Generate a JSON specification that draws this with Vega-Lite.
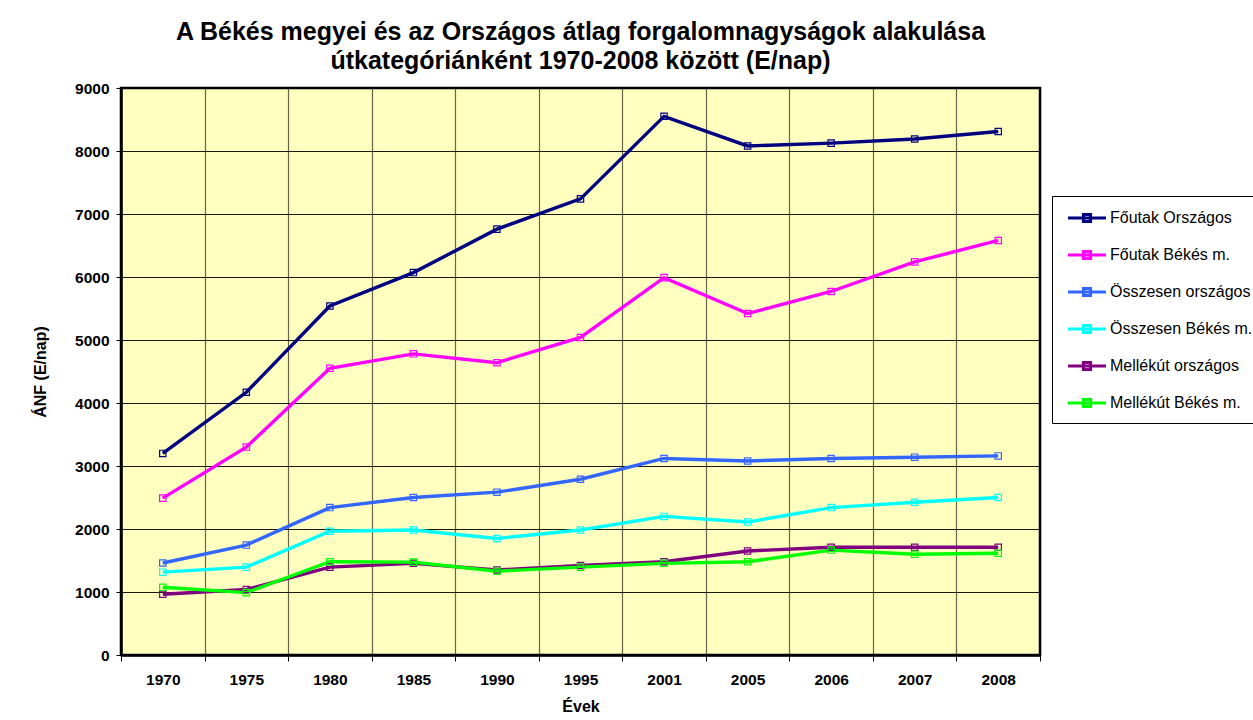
{
  "$schema": "https://vega.github.io/schema/vega-lite/v6.json",
  "autosize": {"type": "none"},
  "width": 919,
  "height": 567,
  "padding": {"left": 121, "top": 88, "right": 213, "bottom": 65},
  "background": "white",
  "title": {
    "text": ["A Békés megyei és az Országos átlag forgalomnagyságok alakulása", "útkategóriánként  1970-2008 között (E/nap)"],
    "font": "Liberation Sans",
    "fontSize": 25,
    "fontWeight": "bold",
    "color": "black",
    "lineHeight": 29,
    "anchor": "middle",
    "offset": 7
  },
  "data": {"values": [
    {"ev": "1970", "s": "Főutak Országos", "v": 3200},
    {"ev": "1975", "s": "Főutak Országos", "v": 4170},
    {"ev": "1980", "s": "Főutak Országos", "v": 5540},
    {"ev": "1985", "s": "Főutak Országos", "v": 6070},
    {"ev": "1990", "s": "Főutak Országos", "v": 6760},
    {"ev": "1995", "s": "Főutak Országos", "v": 7240},
    {"ev": "2001", "s": "Főutak Országos", "v": 8550},
    {"ev": "2005", "s": "Főutak Országos", "v": 8080},
    {"ev": "2006", "s": "Főutak Országos", "v": 8125},
    {"ev": "2007", "s": "Főutak Országos", "v": 8190},
    {"ev": "2008", "s": "Főutak Országos", "v": 8310},
    {"ev": "1970", "s": "Főutak Békés m.", "v": 2490},
    {"ev": "1975", "s": "Főutak Békés m.", "v": 3300},
    {"ev": "1980", "s": "Főutak Békés m.", "v": 4550},
    {"ev": "1985", "s": "Főutak Békés m.", "v": 4780},
    {"ev": "1990", "s": "Főutak Békés m.", "v": 4640},
    {"ev": "1995", "s": "Főutak Békés m.", "v": 5040},
    {"ev": "2001", "s": "Főutak Békés m.", "v": 5990},
    {"ev": "2005", "s": "Főutak Békés m.", "v": 5420},
    {"ev": "2006", "s": "Főutak Békés m.", "v": 5770},
    {"ev": "2007", "s": "Főutak Békés m.", "v": 6240},
    {"ev": "2008", "s": "Főutak Békés m.", "v": 6580},
    {"ev": "1970", "s": "Összesen országos", "v": 1460},
    {"ev": "1975", "s": "Összesen országos", "v": 1745},
    {"ev": "1980", "s": "Összesen országos", "v": 2340},
    {"ev": "1985", "s": "Összesen országos", "v": 2500},
    {"ev": "1990", "s": "Összesen országos", "v": 2585},
    {"ev": "1995", "s": "Összesen országos", "v": 2790},
    {"ev": "2001", "s": "Összesen országos", "v": 3120},
    {"ev": "2005", "s": "Összesen országos", "v": 3080},
    {"ev": "2006", "s": "Összesen országos", "v": 3120},
    {"ev": "2007", "s": "Összesen országos", "v": 3140},
    {"ev": "2008", "s": "Összesen országos", "v": 3160},
    {"ev": "1970", "s": "Összesen Békés m.", "v": 1315},
    {"ev": "1975", "s": "Összesen Békés m.", "v": 1395},
    {"ev": "1980", "s": "Összesen Békés m.", "v": 1965},
    {"ev": "1985", "s": "Összesen Békés m.", "v": 1985},
    {"ev": "1990", "s": "Összesen Békés m.", "v": 1850},
    {"ev": "1995", "s": "Összesen Békés m.", "v": 1985},
    {"ev": "2001", "s": "Összesen Békés m.", "v": 2200},
    {"ev": "2005", "s": "Összesen Békés m.", "v": 2110},
    {"ev": "2006", "s": "Összesen Békés m.", "v": 2340},
    {"ev": "2007", "s": "Összesen Békés m.", "v": 2425},
    {"ev": "2008", "s": "Összesen Békés m.", "v": 2500},
    {"ev": "1970", "s": "Mellékút országos", "v": 965},
    {"ev": "1975", "s": "Mellékút országos", "v": 1040},
    {"ev": "1980", "s": "Mellékút országos", "v": 1395},
    {"ev": "1985", "s": "Mellékút országos", "v": 1455},
    {"ev": "1990", "s": "Mellékút országos", "v": 1350},
    {"ev": "1995", "s": "Mellékút országos", "v": 1420},
    {"ev": "2001", "s": "Mellékút országos", "v": 1480},
    {"ev": "2005", "s": "Mellékút országos", "v": 1650},
    {"ev": "2006", "s": "Mellékút országos", "v": 1710},
    {"ev": "2007", "s": "Mellékút országos", "v": 1710},
    {"ev": "2008", "s": "Mellékút országos", "v": 1710},
    {"ev": "1970", "s": "Mellékút Békés m.", "v": 1075},
    {"ev": "1975", "s": "Mellékút Békés m.", "v": 990},
    {"ev": "1980", "s": "Mellékút Békés m.", "v": 1480},
    {"ev": "1985", "s": "Mellékút Békés m.", "v": 1475},
    {"ev": "1990", "s": "Mellékút Békés m.", "v": 1330},
    {"ev": "1995", "s": "Mellékút Békés m.", "v": 1395},
    {"ev": "2001", "s": "Mellékút Békés m.", "v": 1455},
    {"ev": "2005", "s": "Mellékút Békés m.", "v": 1480},
    {"ev": "2006", "s": "Mellékút Békés m.", "v": 1665},
    {"ev": "2007", "s": "Mellékút Békés m.", "v": 1600},
    {"ev": "2008", "s": "Mellékút Békés m.", "v": 1615}
  ]},
  "encoding": {
    "x": {
      "field": "ev", "type": "ordinal", "bandPosition": 0.5,
      "scale": {"type": "band", "paddingInner": 0, "paddingOuter": 0},
      "axis": {
        "title": "Évek", "tickBand": "extent", "grid": true, "gridColor": "#000000", "gridOpacity": 0.6, "gridWidth": 1.2,
        "domainColor": "#000000", "domainWidth": 2.5, "tickColor": "#000000", "tickSize": 6, "tickWidth": 1,
        "labelAngle": 0, "labelFont": "Liberation Sans", "labelFontSize": 15.5, "labelFontWeight": "bold", "labelColor": "#000000", "labelPadding": 11,
        "titleFont": "Liberation Sans", "titleFontSize": 16, "titleFontWeight": "bold", "titleColor": "#000000", "titlePadding": 11
      }
    },
    "y": {
      "field": "v", "type": "quantitative",
      "scale": {"domain": [0, 9000], "nice": false},
      "axis": {
        "title": "ÁNF (E/nap)", "values": [0, 1000, 2000, 3000, 4000, 5000, 6000, 7000, 8000, 9000], "format": "d",
        "grid": true, "gridColor": "#000000", "gridOpacity": 0.9, "gridWidth": 1.2,
        "domainColor": "#000000", "domainWidth": 2.5, "tickColor": "#000000", "tickSize": 5,
        "labelFont": "Liberation Sans", "labelFontSize": 15.5, "labelFontWeight": "bold", "labelColor": "#000000", "labelPadding": 7,
        "titleFont": "Liberation Sans", "titleFontSize": 16, "titleFontWeight": "bold", "titleColor": "#000000", "titlePadding": 26
      }
    },
    "color": {
      "field": "s", "type": "nominal",
      "scale": {
        "domain": ["Főutak Országos", "Főutak Békés m.", "Összesen országos", "Összesen Békés m.", "Mellékút országos", "Mellékút Békés m."],
        "range": ["#000080", "#FF00FF", "#3366FF", "#00FFFF", "#800080", "#00FF00"]
      },
      "legend": {
        "title": null, "orient": "none", "legendX": 931, "legendY": 108,
        "strokeColor": "#000000", "padding": 10, "rowPadding": 15,
        "symbolType": "M-1,0L2.8,0M0.55,-0.35L1.25,-0.35L1.25,0.35L0.55,0.35Z",
        "symbolSize": 400, "symbolStrokeWidth": 3.2, "symbolOffset": 4,
        "labelFont": "Liberation Sans", "labelFontSize": 16, "labelColor": "#000000", "labelOffset": 20, "labelLimit": 400
      }
    }
  },
  "layer": [
    {"mark": {"type": "line", "strokeWidth": 3.4}},
    {"mark": {"type": "point", "shape": "square", "filled": false, "size": 40, "strokeWidth": 1.2, "opacity": 1}}
  ],
  "config": {
    "view": {"fill": "#FFFFC0", "stroke": "#000000", "strokeWidth": 2.5}
  }
}
